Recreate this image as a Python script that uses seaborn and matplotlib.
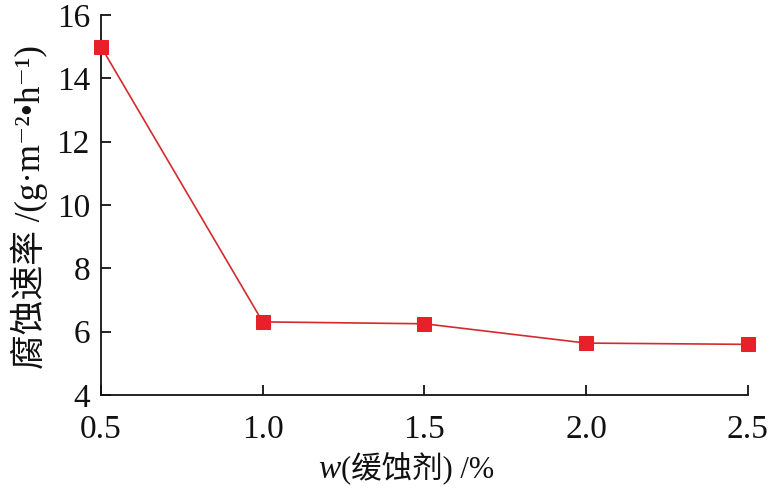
import numpy as np
import pandas as pd
import seaborn as sns
import matplotlib.pyplot as plt

# inhibitor dosage (%) vs corrosion rate
dosage = [0.5, 1.0, 1.5, 2.0, 2.5]
rate = [15.0, 6.31, 6.25, 5.64, 5.60]
x_ticks = [0.5, 1.0, 1.5, 2.0, 2.5]
y_ticks = [4, 6, 8, 10, 12, 14, 16]

df = pd.DataFrame({'dosage': dosage, 'rate': rate})

sns.set_style('ticks')
fonts = ['Liberation Serif', 'DejaVu Serif', 'Noto Sans CJK SC']
plt.rcParams['font.family'] = fonts

fig = plt.figure(figsize=(7.71, 4.96), dpi=100)
ax = fig.add_axes([0.131, 0.2036, 0.839, 0.766])

sns.lineplot(data=df, x='dosage', y='rate', ax=ax, color='#d42a2e',
             linewidth=1.2, marker='s', markersize=10, clip_on=False, zorder=5,
             markerfacecolor='#e8202a', markeredgecolor='#e8202a')

ax.set_xlim(0.5, 2.5)
ax.set_ylim(4, 16)
ax.set_xticks(x_ticks)
ax.set_xticklabels(['{:.1f}'.format(v) for v in x_ticks])
ax.set_yticks(y_ticks)
ax.tick_params(direction='in', length=7, width=1.3, labelsize=24, colors='#111111')
ax.tick_params(axis='x', pad=14)
ax.tick_params(axis='y', pad=8)
for s in ['left', 'bottom']:
    ax.spines[s].set_linewidth(1.3)
    ax.spines[s].set_color('#111111')
sns.despine(ax=ax)
for lab in ax.get_xticklabels() + ax.get_yticklabels():
    lab.set_family(fonts)

ax.set_xlabel('')
ax.set_ylabel('')
fig.text(0.442, 0.036, 'w', fontsize=24, style='italic', ha='right', va='baseline',
         family=fonts, color='#111111')
fig.text(0.442, 0.036, '(缓蚀剂) /%', fontsize=22, ha='left', va='baseline',
         family=fonts, color='#111111')
fig.text(0.038, 0.583, '腐蚀速率 /(g·m⁻²•h⁻¹)', fontsize=25, rotation=90,
         ha='center', va='center', family=fonts, color='#111111')

plt.savefig('out.png', dpi=100)
